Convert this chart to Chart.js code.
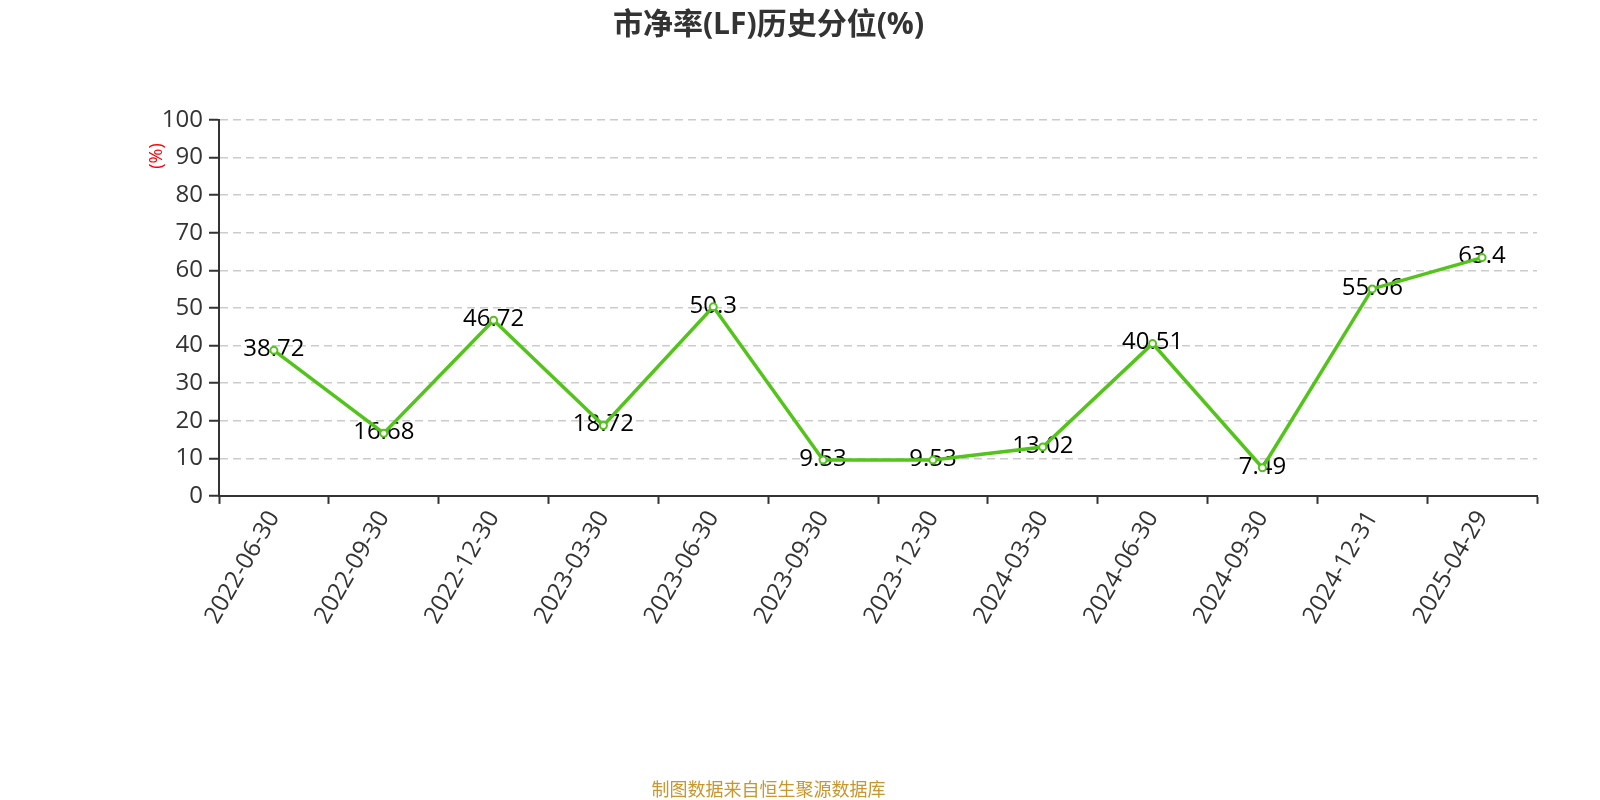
<!DOCTYPE html>
<html>
<head>
<meta charset="utf-8">
<script src="https://cdn.jsdelivr.net/npm/chart.js@4.4.1/dist/chart.umd.min.js"></script>
<style>
  html, body { margin: 0; padding: 0; background: #fff; }
  #wrap { width: 1600px; height: 800px; }
</style>
</head>
<body>
<div id="wrap"><canvas id="pbChart"></canvas></div>
<script>
var dates = ["2022-06-30", "2022-09-30", "2022-12-30", "2023-03-30", "2023-06-30", "2023-09-30",
  "2023-12-30", "2024-03-30", "2024-06-30", "2024-09-30", "2024-12-31", "2025-04-29"];
var pbPercentile = [38.72, 16.68, 46.72, 18.72, 50.3, 9.53, 9.53, 13.02, 40.51, 7.49, 55.06, 63.4];
var yTicks = [0, 10, 20, 30, 40, 50, 60, 70, 80, 90, 100];

var FONT = "'Open Sans', 'Noto Sans CJK SC', sans-serif";

// value labels sit under the line/points, plus the small red unit text
var extras = {
  id: "extras",
  beforeDatasetsDraw: function(chart) {
    var ctx = chart.ctx;
    var meta = chart.getDatasetMeta(0);
    ctx.save();
    ctx.font = "24px " + FONT;
    ctx.fillStyle = "#000";
    ctx.textAlign = "center";
    ctx.textBaseline = "middle";
    meta.data.forEach(function(pt, i) {
      ctx.fillText(String(pbPercentile[i]), pt.x, pt.y - 1);
    });
    ctx.restore();

    ctx.save();
    ctx.translate(157, 156);
    ctx.rotate(-Math.PI / 2);
    ctx.font = "18px " + FONT;
    ctx.fillStyle = "#ff0000";
    ctx.textAlign = "center";
    ctx.textBaseline = "middle";
    ctx.fillText("(%)", 0, 0);
    ctx.restore();
  }
};

var ctx = document.getElementById("pbChart");
var pbChart = new Chart(ctx, {
  type: "line",
  data: {
    labels: dates,
    datasets: [
      {
        label: "市净率(LF)历史分位",
        data: pbPercentile,
        borderColor: "#52c41a",
        borderWidth: 3.5,
        backgroundColor: "#52c41a",
        pointBackgroundColor: "#fff",
        pointBorderColor: "#52c41a",
        pointBorderWidth: 2,
        pointRadius: 3.5,
        tension: 0,
        fill: false,
      },
    ],
  },
  options: {
    responsive: true,
    maintainAspectRatio: false,
    animation: false,
    layout: {
      padding: { left: 0, right: 63, top: 0, bottom: 0 },
    },
    plugins: {
      legend: { display: false },
      tooltip: { enabled: false },
      title: {
        display: true,
        text: "市净率(LF)历史分位(%)",
        color: "#333",
        font: { family: FONT, size: 30, weight: "bold" },
        padding: { top: 7, bottom: 77 },
      },
      subtitle: {
        display: true,
        position: "bottom",
        text: "制图数据来自恒生聚源数据库",
        color: "#c8962b",
        font: { family: FONT, size: 18 },
        padding: { top: 2, bottom: -2 },
      },
    },
    scales: {
      x: {
        offset: true,
        grid: {
          offset: true,
          drawOnChartArea: false,
          drawTicks: true,
          tickLength: 8,
          tickColor: "#333",
          tickWidth: 2,
        },
        border: { color: "#333", width: 2 },
        ticks: {
          color: "#333",
          font: { family: FONT, size: 24 },
          minRotation: 60,
          maxRotation: 60,
          autoSkip: false,
          padding: 2,
        },
        afterFit: function(scale) { scale.height = 282.5; },
      },
      y: {
        min: 0,
        max: 100,
        afterBuildTicks: function(scale) {
          scale.ticks = yTicks.map(function(v) { return { value: v }; });
        },
        grid: {
          color: "#ccc",
          lineWidth: 1.5,
          drawTicks: true,
          tickLength: 10,
          tickColor: "#333",
          tickWidth: 2,
          tickBorderDash: [],
        },
        border: { color: "#333", width: 2, dash: [8, 5] },
        ticks: {
          color: "#333",
          font: { family: FONT, size: 24 },
          padding: 6,
        },
        afterFit: function(scale) { scale.width = 219; },
      },
    },
  },
  plugins: [extras],
});
</script>
</body>
</html>
